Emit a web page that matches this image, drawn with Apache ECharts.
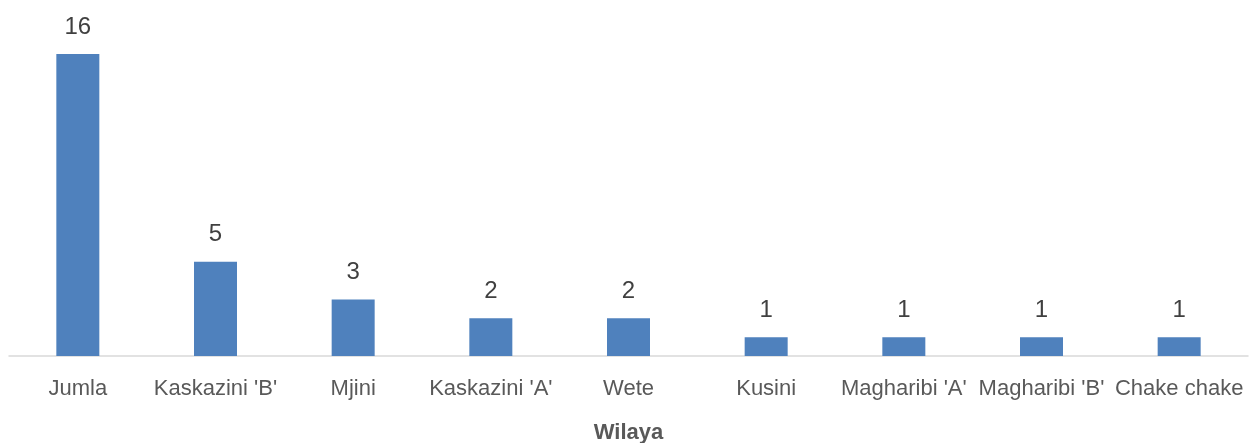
<!DOCTYPE html>
<html>
<head>
<meta charset="utf-8">
<script src="https://cdn.jsdelivr.net/npm/echarts@6/dist/echarts.min.js"></script>
<style>
html,body{margin:0;padding:0;background:#fff;}
#chart{width:1250px;height:443px;}
</style>
</head>
<body>
<div id="chart"></div>
<script>
// idadi kwa kila wilaya
var wilaya = ["Jumla", "Kaskazini 'B'", "Mjini", "Kaskazini 'A'", "Wete", "Kusini", "Magharibi 'A'", "Magharibi 'B'", "Chake chake"];
var idadi = [16, 5, 3, 2, 2, 1, 1, 1, 1];

var font = "'Liberation Sans', Arial, sans-serif";

var myChart = echarts.init(document.getElementById('chart'));
var option = {
	animation: false,
	grid: {left: 9, right: 2, top: 54, bottom: 87, outerBoundsMode: 'none', containLabel: false},
	xAxis: {
		type: 'category',
		data: wilaya,
		name: 'Wilaya',
		nameLocation: 'middle',
		nameGap: 66,
		nameTextStyle: {fontFamily: font, fontSize: 22, fontWeight: 'bold', color: '#595959'},
		axisLine: {lineStyle: {color: '#d9d9d9', width: 1.5}},
		axisTick: {show: false},
		axisLabel: {interval: 0, margin: 22, fontFamily: font, fontSize: 22, color: '#595959'}
	},
	yAxis: {
		type: 'value',
		min: 0,
		max: 16,
		show: false
	},
	series: [{
		type: 'bar',
		data: idadi,
		barWidth: 43,
		itemStyle: {color: '#4f81bd'},
		label: {
			show: true,
			position: 'top',
			distance: 15,
			fontFamily: font,
			fontSize: 24,
			color: '#404040'
		}
	}]
};
myChart.setOption(option);
</script>
</body>
</html>
